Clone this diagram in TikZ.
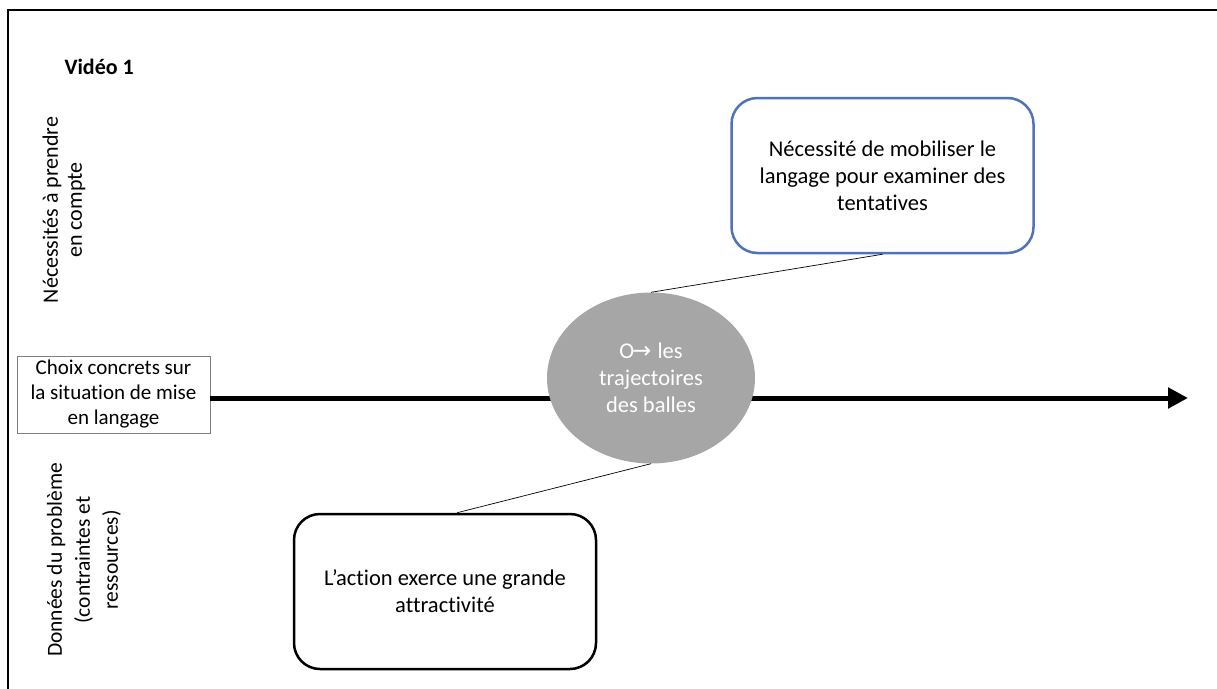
\documentclass[tikz,border=0pt]{standalone}
\usepackage{fontspec}
\setmainfont{Carlito}[Ligatures=NoCommon]
\newfontfamily\symfont{DejaVu Sans}
\usetikzlibrary{shapes.geometric, arrows.meta}
\definecolor{boxblue}{HTML}{4F72B8}
\definecolor{discgray}{HTML}{A6A6A6}

\begin{document}
\begin{tikzpicture}[x=1pt, y=-1pt,
    every node/.style={font=\fontsize{22.5}{27}\selectfont, align=center},
    bubble/.style={draw, rounded corners=26pt, line width=2.5pt, minimum width=302pt, minimum height=155pt},
    axislabel/.style={rotate=90, inner sep=0pt},
    link/.style={line width=0.7pt}]
   \useasboundingbox (0,0) rectangle (1217,688);
   % cadre
   \draw[line width=2pt] (8,700) |- (1230,10);

   \node[font=\fontsize{22}{26}\bfseries\selectfont, anchor=west] (titre) at (61,67) {Vidéo 1};

   % axes
   \node[axislabel, font=\fontsize{22}{24}\selectfont] (haut) at (64,210) {Nécessités à prendre\\en compte};
   \node[axislabel, font=\fontsize{21.5}{28}\selectfont] (bas) at (84,560) {Données du problème\\(contraintes et\\ressources)};

   % ligne centrale
   \node[draw=gray, line width=0.6pt, minimum width=193pt, minimum height=77pt, inner sep=2pt, font=\fontsize{21}{25}\selectfont] (choix) at (113.5,394.5) {Choix concrets sur\\la situation de mise\\en langage};
   \coordinate (tip) at (1188,398);
   \draw[line width=5pt, -{Triangle[length=20pt, width=20pt]}] (choix.east |- tip) -- (tip);

   % objet
   \node[ellipse, fill=discgray, minimum width=208pt, minimum height=171pt, inner sep=0pt, text=white] (objet) at (651,378) {O{\symfont\fontsize{23}{27}\selectfont\kern-2pt→\kern1pt} les\\trajectoires\\des balles};

   % bulles
   \node[bubble, draw=boxblue] (besoin) at (882.5,175.5) {Nécessité de mobiliser le\\langage pour examiner des\\tentatives};
   \node[bubble, draw=black] (donnee) at (445,591.5) {L’action exerce une grande\\attractivité};

   \draw[link] (besoin.south) -- (objet.north);
   \draw[link] ([xshift=12pt]donnee.north) -- (objet.south);
\end{tikzpicture}
\end{document}
